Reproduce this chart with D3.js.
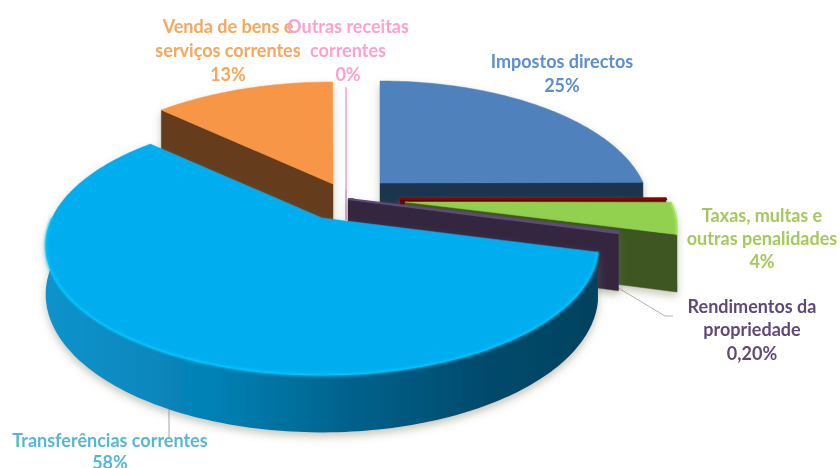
<!DOCTYPE html>
<html><head><meta charset="utf-8">
<script src="https://cdn.jsdelivr.net/npm/d3@7"></script>
<style>html,body{margin:0;background:#fff;overflow:hidden}svg{display:block}text{font-family:Lato,"Open Sans",sans-serif;font-weight:700;font-size:18px;text-anchor:middle}</style>
</head><body><svg id="c" width="840" height="468"></svg>
<script>
const categories=["Impostos directos","","Taxas, multas e outras penalidades","Rendimentos da propriedade","Transferências correntes","Venda de bens e serviços correntes","Outras receitas correntes"];
const values=[25,0.1,4,0.2,58,13,0.03];
const percentLabels=["25%","","4%","0,20%","58%","13%","0%"];
const topColors=["#4f81bd","#8b0000","#92d050","#5f497a","#00aeef","#f79646","#ffb6dc"];
const wallColors=["#1f3450","#5c0000","#3e5722","#362840","#0a6f9e","#663c1c","#d9a8c4"];
const labelColors=["#5b8fd0","","#a5c85c","#5f497a","#55b7d6","#f9a65a","#ff9fd0"];
// per-slice placement on the page: apex x, apex y, horizontal scale, wall height factor
const apex=[[380,183,.975,1.17],[400,199,.985,.3],[405,202,.985,1.17],[348,199,.98,1.17],[322,218,1,1],[333,184,1,1],[346,190,1,.64]];
const drawOrder=[5,6,0,1,2,3,4];
const labelLines={0:[[562,68,0],[562,92,1]],2:[[762,222,0],[762,245,0],[762,268,1]],3:[[752,313,0],[752,336,0],[752,360,1]],4:[[110,447,0],[110,469,1]],5:[[228,33,0],[228,57,0],[228,81,1]],6:[[348,33,0],[348,57,0],[348,81,1]]};
const wrapped={0:["Impostos directos"],2:["Taxas, multas e","outras penalidades"],3:["Rendimentos da","propriedade"],4:["Transferências correntes"],5:["Venda de bens e","serviços correntes"],6:["Outras receitas","correntes"]};

const svg=d3.select("#c"),defs=svg.append("defs");
const A=270,B=123.7,k=.2126,H=47;
const pie=d3.pie().sort(null).value(d=>d).startAngle(0).endAngle(2*Math.PI);
const arcs=pie(values);
const proj=(i,th,r,z)=>{const [ax,ay,s,hf]=apex[i];const X=r*Math.sin(th),Y=r*Math.cos(th),w=1+k*Y;
  return [ax+s*A*X/w, ay-B*Y/w+z*hf*H/Math.pow(w,.83)];};
const line=d3.line();
const arcPts=(i,a,b,z)=>{const n=Math.max(2,Math.ceil((b-a)/.02));return d3.range(n+1).map(j=>proj(i,a+(b-a)*j/n,1,z));};
const area=p=>d3.polygonArea(p);

const shadow=defs.append("filter").attr("id","sh").attr("x","-10%").attr("y","-10%").attr("width","120%").attr("height","130%");
shadow.append("feDropShadow").attr("dx",0).attr("dy",4).attr("stdDeviation",4).attr("flood-color","#77775a").attr("flood-opacity",.42);
defs.append("filter").attr("id","soft").append("feGaussianBlur").attr("stdDeviation",.8);
defs.append("filter").attr("id","txt").attr("x","-5%").attr("width","110%").append("feGaussianBlur").attr("stdDeviation",.25);
const grad=defs.append("linearGradient").attr("id","cyanWall").attr("gradientUnits","userSpaceOnUse").attr("x1",45).attr("x2",600).attr("y1",0).attr("y2",0);
[[0,"#0b93cc"],[.3,"#0581b5"],[.55,"#00628c"],[.8,"#004a6c"],[1,"#00425f"]].forEach(d=>grad.append("stop").attr("offset",d[0]).attr("stop-color",d[1]));

// leader lines sit beneath the pie
svg.append("path").attr("d",line([[610,283],[665,316],[673,316]])).attr("stroke","#b3b3b3").attr("fill","none");
svg.append("path").attr("d",line([[169,405],[169,437]])).attr("stroke","#a6a6a6").attr("fill","none");

drawOrder.forEach(i=>{
  const a=arcs[i],s0=a.startAngle,s1=a.endAngle;
  const g=svg.append("g").attr("filter","url(#sh)");
  const wallFill=i===4?"url(#cyanWall)":wallColors[i];
  const thin=values[i]<.5;
  const face=th=>[proj(i,th,0,0),proj(i,th,1,0),proj(i,th,1,1),proj(i,th,0,1)];
  // radial faces turned towards the viewer
  [[s0,1],[s1,-1]].forEach(([th,sgn])=>{
    const p=face(th);
    if(area(p)*sgn>0||(i===6)){
      g.append("path").attr("d",line(p)+"Z").attr("fill",wallFill).attr("stroke",wallFill).attr("stroke-width",i===6?1.5:.5);
    }
  });
  // rim wall, front half only
  const f0=Math.max(s0,Math.PI/2),f1=Math.min(s1,1.5*Math.PI);
  if(f1>f0){
    const top=arcPts(i,f0,f1,0),bot=arcPts(i,f0,f1,1).reverse();
    g.append("path").attr("d",line(top.concat(bot))+"Z").attr("fill",wallFill);
  }
  const topPts=[proj(i,0,0,0)].concat(arcPts(i,s0,s1,0));
  g.append("path").attr("d",line(topPts)+"Z").attr("fill",topColors[i]).attr("stroke",topColors[i]).attr("stroke-width",thin?(i===6?1.5:2):.5);
  // lit bevel on the front rim
  if(f1>f0&&!thin){
    const bright=d3.color(topColors[i]).brighter(.45);
    svg.append("path").attr("d",line(arcPts(i,f0,f1,0))).attr("fill","none").attr("stroke",bright).attr("stroke-width",2).attr("filter","url(#soft)");
  }
});

// labels
const tg=svg.append("g").attr("filter","url(#txt)");
Object.keys(labelLines).forEach(key=>{
  const i=+key,names=wrapped[i];
  labelLines[i].forEach((l,j)=>{
    tg.append("text").attr("x",l[0]).attr("y",l[1]).attr("fill",labelColors[i]).text(l[2]?percentLabels[i]:names[j]);
  });
});
</script></body></html>
